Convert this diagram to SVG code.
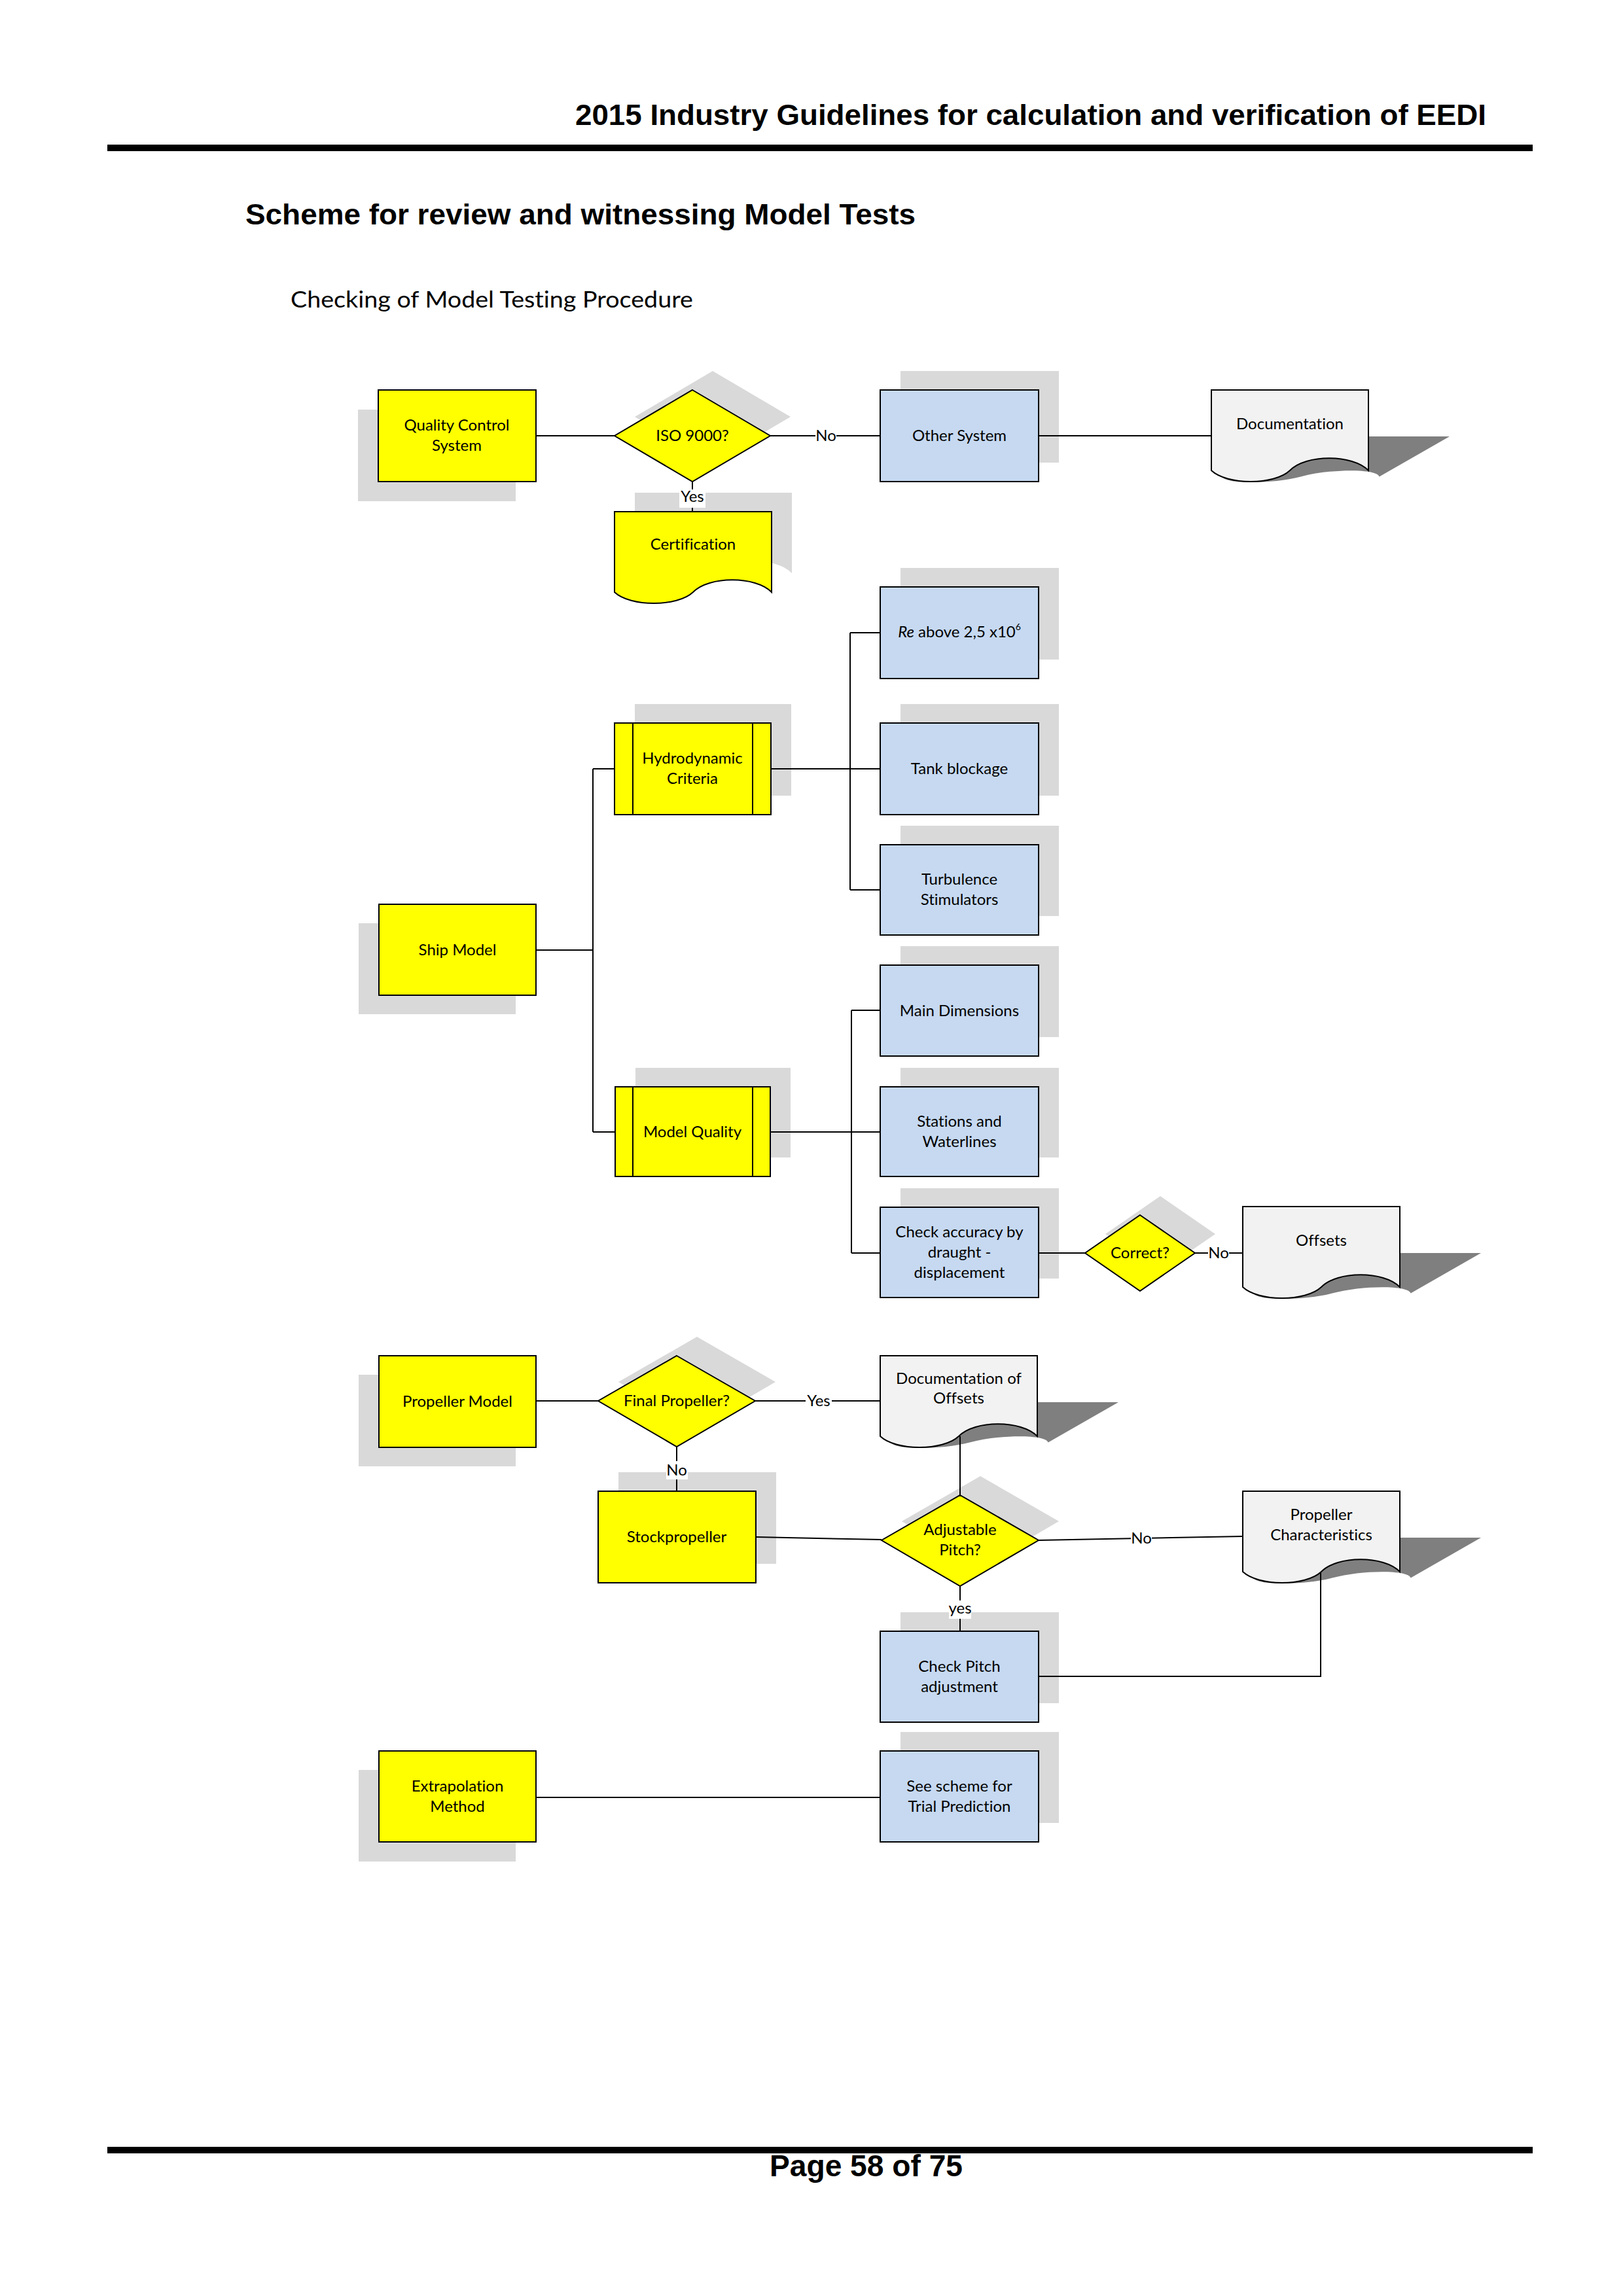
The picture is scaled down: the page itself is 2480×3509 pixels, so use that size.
<svg xmlns="http://www.w3.org/2000/svg" width="2480" height="3509" viewBox="0 0 2480 3509">
<style>
text{font-variant-ligatures:none}
.y{fill:#ffff00;stroke:#000;stroke-width:2}
.b{fill:#c6d9f1;stroke:#000;stroke-width:2}
.d{fill:#f2f2f2;stroke:#000;stroke-width:2}
.s{fill:#d9d9d9}
.ds{fill:#7f7f7f}
.t{font-family:Lato,"Open Sans",sans-serif;font-size:24px;fill:#000;text-anchor:middle}
.c{stroke:#000;stroke-width:2;fill:none}
.lb{fill:#fff}
.hd{font-family:"Liberation Sans",Arial,sans-serif;font-weight:bold;fill:#000}
</style>
<defs>
<path id="doc" d="M0,0 H240 V123 C216,98 144,98 120,123 C96,145.7 24,145.7 0,123 Z"/>
</defs>
<rect width="2480" height="3509" fill="#fff"/>

<g id="page">
<text class="hd" x="879" y="191" font-size="44" textLength="1392" lengthAdjust="spacingAndGlyphs">2015 Industry Guidelines for calculation and verification of EEDI</text>
<rect x="164" y="221" width="2178" height="10" fill="#000"/>
<text class="hd" x="375" y="343" font-size="44" textLength="1024" lengthAdjust="spacingAndGlyphs">Scheme for review and witnessing Model Tests</text>
<text x="444" y="470" font-family="Lato,'Open Sans',sans-serif" font-size="35" textLength="615" lengthAdjust="spacingAndGlyphs">Checking of Model Testing Procedure</text>
<rect x="164" y="3281" width="2178" height="10" fill="#000"/>
<text class="hd" x="1176" y="3326" font-size="46" textLength="295" lengthAdjust="spacingAndGlyphs">Page 58 of 75</text>
</g>

<g id="shadows">
<rect class="s" x="547" y="626" width="241" height="140"/>
<rect class="s" x="548" y="1411" width="240" height="139"/>
<rect class="s" x="548" y="2101" width="240" height="140"/>
<rect class="s" x="548" y="2705" width="240" height="140"/>
<rect class="s" x="1376" y="567" width="242" height="140"/>
<rect class="s" x="1376" y="868" width="242" height="140"/>
<rect class="s" x="970" y="1076" width="239" height="140"/>
<rect class="s" x="1376" y="1076" width="242" height="140"/>
<rect class="s" x="1376" y="1262" width="242" height="138"/>
<rect class="s" x="1376" y="1446" width="242" height="139"/>
<rect class="s" x="971" y="1632" width="237" height="137"/>
<rect class="s" x="1376" y="1632" width="242" height="137"/>
<rect class="s" x="1376" y="1816" width="242" height="138"/>
<rect class="s" x="945" y="2250" width="241" height="140"/>
<rect class="s" x="1376" y="2464" width="242" height="139"/>
<rect class="s" x="1376" y="2647" width="242" height="139"/>
<polygon class="s" points="1089,567 1208,637 1089,707 970,637"/>
<polygon class="s" points="1773,1828 1857,1886 1773,1944 1689,1886"/>
<polygon class="s" points="1065,2043 1185,2112 1065,2182 945,2112"/>
<polygon class="s" points="1498,2256 1618,2325 1498,2395 1378,2325"/>
<use href="#doc" class="s" x="970" y="753"/>
<use href="#doc" class="ds" transform="translate(1851,596) matrix(1,0,-0.873,0.5,124,71)"/>
<use href="#doc" class="ds" transform="translate(1899,1844) matrix(1,0,-0.873,0.5,124,71)"/>
<use href="#doc" class="ds" transform="translate(1345,2072) matrix(1,0,-0.873,0.5,124,71)"/>
<use href="#doc" class="ds" transform="translate(1899,2279) matrix(1,0,-0.873,0.5,124,71)"/>
</g>

<g id="connectors">
<path class="c" d="M819,666 H939"/>
<path class="c" d="M1177,666 H1345"/>
<path class="c" d="M1587,666 H1851"/>
<path class="c" d="M1058,736 V782"/>
<path class="c" d="M1178,1175 H1345 M1299,967 V1360 M1299,967 H1345 M1299,1360 H1345"/>
<path class="c" d="M819,1452 H906 M906,1175 V1730 M906,1175 H939 M906,1730 H940"/>
<path class="c" d="M1177,1730 H1345 M1301,1544 V1915 M1301,1544 H1345 M1301,1915 H1345"/>
<path class="c" d="M1587,1915 H1658"/>
<path class="c" d="M1826,1915 H1899"/>
<path class="c" d="M819,2141 H914"/>
<path class="c" d="M1154,2141 H1345"/>
<path class="c" d="M1034,2211 V2279"/>
<path class="c" d="M1467,2195 V2285"/>
<path class="c" d="M1155,2349 L1347,2353"/>
<path class="c" d="M1587,2354 L1899,2348"/>
<path class="c" d="M1467,2424 V2493"/>
<path class="c" d="M1587,2562 H2018 V2402"/>
<path class="c" d="M819,2747 H1345"/>
<g id="labels">
<rect class="lb" x="1246" y="652" width="32" height="28"/><text class="t" x="1262" y="674">No</text>
<rect class="lb" x="1038" y="748" width="40" height="28"/><text class="t" x="1058" y="767">Yes</text>
<rect class="lb" x="1846" y="1901" width="32" height="28"/><text class="t" x="1862" y="1923">No</text>
<rect class="lb" x="1231" y="2127" width="40" height="28"/><text class="t" x="1251" y="2149">Yes</text>
<rect class="lb" x="1018" y="2233" width="33" height="28"/><text class="t" x="1034" y="2255">No</text>
<rect class="lb" x="1728" y="2337" width="32" height="28"/><text class="t" x="1744" y="2359">No</text>
<rect class="lb" x="1450" y="2446" width="34" height="28"/><text class="t" x="1467" y="2466">yes</text>
</g>
</g>

<g id="n-qcs"><rect class="y" x="578" y="596" width="241" height="140"/><text class="t" x="698" y="658">Quality Control</text><text class="t" x="698" y="689">System</text></g>
<g id="n-iso"><polygon class="y" points="1058,596 1177,666 1058,736 939,666"/><text class="t" x="1058" y="674">ISO 9000?</text></g>
<g id="n-other"><rect class="b" x="1345" y="596" width="242" height="140"/><text class="t" x="1466" y="674">Other System</text></g>
<g id="n-documentation"><use href="#doc" class="d" x="1851" y="596"/><text class="t" x="1971" y="656">Documentation</text></g>
<g id="n-certification"><use href="#doc" class="y" x="939" y="782"/><text class="t" x="1059" y="840">Certification</text></g>
<g id="n-re"><rect class="b" x="1345" y="897" width="242" height="140"/><text class="t" x="1466" y="974"><tspan font-style="italic">Re</tspan> above 2,5 x10<tspan font-size="14" dy="-11">6</tspan></text></g>
<g id="n-hydro"><rect class="y" x="939" y="1105" width="239" height="140"/><path class="c" d="M967,1105 V1245 M1150,1105 V1245"/><text class="t" x="1058" y="1167">Hydrodynamic</text><text class="t" x="1058" y="1198">Criteria</text></g>
<g id="n-tank"><rect class="b" x="1345" y="1105" width="242" height="140"/><text class="t" x="1466" y="1183">Tank blockage</text></g>
<g id="n-turb"><rect class="b" x="1345" y="1291" width="242" height="138"/><text class="t" x="1466" y="1352">Turbulence</text><text class="t" x="1466" y="1383">Stimulators</text></g>
<g id="n-ship"><rect class="y" x="579" y="1382" width="240" height="139"/><text class="t" x="699" y="1460">Ship Model</text></g>
<g id="n-main"><rect class="b" x="1345" y="1475" width="242" height="139"/><text class="t" x="1466" y="1553">Main Dimensions</text></g>
<g id="n-mq"><rect class="y" x="940" y="1661" width="237" height="137"/><path class="c" d="M967,1661 V1798 M1150,1661 V1798"/><text class="t" x="1058" y="1738">Model Quality</text></g>
<g id="n-stations"><rect class="b" x="1345" y="1661" width="242" height="137"/><text class="t" x="1466" y="1722">Stations and</text><text class="t" x="1466" y="1753">Waterlines</text></g>
<g id="n-check"><rect class="b" x="1345" y="1845" width="242" height="138"/><text class="t" x="1466" y="1891">Check accuracy by</text><text class="t" x="1466" y="1922">draught -</text><text class="t" x="1466" y="1953">displacement</text></g>
<g id="n-correct"><polygon class="y" points="1742,1857 1826,1915 1742,1973 1658,1915"/><text class="t" x="1742" y="1923">Correct?</text></g>
<g id="n-offsets"><use href="#doc" class="d" x="1899" y="1844"/><text class="t" x="2019" y="1904">Offsets</text></g>
<g id="n-pm"><rect class="y" x="579" y="2072" width="240" height="140"/><text class="t" x="699" y="2150">Propeller Model</text></g>
<g id="n-fp"><polygon class="y" points="1034,2072 1154,2141 1034,2211 914,2141"/><text class="t" x="1034" y="2149">Final Propeller?</text></g>
<g id="n-docoff"><use href="#doc" class="d" x="1345" y="2072"/><text class="t" x="1465" y="2115">Documentation of</text><text class="t" x="1465" y="2145">Offsets</text></g>
<g id="n-stock"><rect class="y" x="914" y="2279" width="241" height="140"/><text class="t" x="1034" y="2357">Stockpropeller</text></g>
<g id="n-adj"><polygon class="y" points="1467,2285 1587,2354 1467,2424 1347,2354"/><text class="t" x="1467" y="2346">Adjustable</text><text class="t" x="1467" y="2377">Pitch?</text></g>
<g id="n-pc"><use href="#doc" class="d" x="1899" y="2279"/><text class="t" x="2019" y="2323">Propeller</text><text class="t" x="2019" y="2354">Characteristics</text></g>
<g id="n-cpa"><rect class="b" x="1345" y="2493" width="242" height="139"/><text class="t" x="1466" y="2555">Check Pitch</text><text class="t" x="1466" y="2586">adjustment</text></g>
<g id="n-extrap"><rect class="y" x="579" y="2676" width="240" height="139"/><text class="t" x="699" y="2738">Extrapolation</text><text class="t" x="699" y="2769">Method</text></g>
<g id="n-see"><rect class="b" x="1345" y="2676" width="242" height="139"/><text class="t" x="1466" y="2769">Trial Prediction</text><text class="t" x="1466" y="2738">See scheme for</text></g>
</svg>
